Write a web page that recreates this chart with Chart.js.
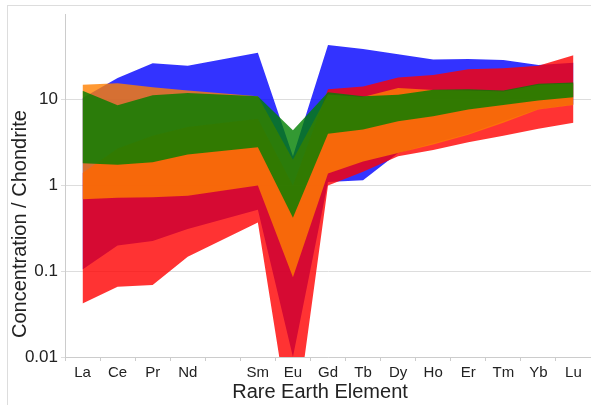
<!DOCTYPE html>
<html>
<head>
<meta charset="utf-8">
<script src="https://cdn.jsdelivr.net/npm/chart.js@4.4.1/dist/chart.umd.min.js"></script>
<style>
  html, body { margin: 0; background: #fff; }
  #wrap { position: relative; width: 591px; height: 405px; overflow: hidden; }
  #frame { position: absolute; left: 7px; top: 5px; width: 600px; height: 420px; border: 1px solid #ddd; }
  canvas { position: absolute; left: 0; top: 0; }
</style>
</head>
<body>
<div id="wrap">
  <div id="frame"></div>
  <canvas id="myChart" width="591" height="405"></canvas>
</div>
<script>
// REE elements (Pm has no data, kept as an empty slot)
const elements = ["La", "Ce", "Pr", "Nd", "", "Sm", "Eu", "Gd", "Tb", "Dy", "Ho", "Er", "Tm", "Yb", "Lu"];
const yTicks = [0.01, 0.1, 1, 10];

// envelope bounds per group
const blueHigh   = [10.5, 17.9, 26.7, 24.9, null, 35.3, 2.2, 43.6, 39, 34, 29.5, 29.8, 29, 25.5, 27];
const blueLow    = [0.105, 0.2, 0.225, 0.31, null, 0.52, 0.01, 1.1, 1.15, 2.4, 3.1, 4.0, 5.6, 7.8, 8.8];
const redHigh    = [1.4, 2.7, 3.8, 4.8, null, 6, 1.0, 13.3, 14.3, 18.2, 19.5, 22.7, 23.3, 24.9, 33];
const redLow     = [0.042, 0.066, 0.069, 0.148, null, 0.37, 0.001, 1.0, 1.45, 2.2, 2.6, 3.2, 3.8, 4.6, 5.4];
const orangeHigh = [15, 15.6, 14, 12.8, null, 11, 2.0, 11.5, 10.8, 13.7, 13, 12.8, 12.5, 15, 15.5];
const orangeLow  = [0.69, 0.72, 0.73, 0.76, null, 1.0, 0.085, 1.38, 1.9, 2.4, 3.0, 3.9, 5.4, 7.7, 8.7];
const greenHigh  = [12.7, 8.6, 11.3, 12, null, 11, 4.4, 12.2, 11, 11.4, 13.1, 13.3, 12.8, 15.4, 15.9];
const greenLow   = [1.82, 1.75, 1.87, 2.3, null, 2.8, 0.42, 4.0, 4.5, 5.6, 6.4, 7.7, 8.7, 9.8, 10.7];

const font = "'Liberation Sans', Arial, Helvetica, sans-serif";

// lower edge (no fill) + upper edge filled down to it
function band(low, high, color, order) {
  const base = { pointRadius: 0, borderWidth: 0, borderColor: "transparent", spanGaps: true, tension: 0, order: order };
  return [
    Object.assign({ data: low, fill: false }, base),
    Object.assign({ data: high, fill: "-1", backgroundColor: color }, base),
  ];
}

const axisTitles = {
  id: "axisTitles",
  afterDraw(chart) {
    const c = chart.ctx;
    c.save();
    c.fillStyle = "#222";
    c.font = "20px " + font;
    c.textAlign = "center";
    c.textBaseline = "middle";
    c.fillText("Rare Earth Element", 320, 392);
    c.translate(20, 224);
    c.rotate(-Math.PI / 2);
    c.fillText("Concentration / Chondrite", 0, 0);
    c.restore();
  },
};

const ctx = document.getElementById("myChart").getContext("2d");
const myChart = new Chart(ctx, {
  type: "line",
  data: {
    labels: elements,
    datasets: [
      ...band(blueLow, blueHigh, "rgba(0, 0, 255, 0.8)", 4),
      ...band(redLow, redHigh, "rgba(255, 0, 0, 0.8)", 3),
      ...band(orangeLow, orangeHigh, "rgba(255, 127, 0, 0.8)", 2),
      ...band(greenLow, greenHigh, "rgba(0, 128, 0, 0.8)", 1),
    ],
  },
  options: {
    responsive: false,
    animation: false,
    events: [],
    layout: { padding: { top: 14, right: 0, left: 0, bottom: 0 } },
    plugins: { legend: { display: false }, tooltip: { enabled: false } },
    scales: {
      x: {
        offset: true,
        grid: { offset: true, drawOnChartArea: false, tickLength: 4, color: "#ccc" },
        border: { color: "#ccc" },
        ticks: { color: "#222", font: { family: font, size: 15 }, padding: 3, autoSkip: false, maxRotation: 0 },
        afterFit: (s) => { s.height = 48; },
      },
      y: {
        type: "logarithmic",
        min: 0.01,
        max: 100,
        grid: { color: "#ddd", tickLength: 4 },
        border: { color: "#ccc" },
        ticks: { color: "#222", font: { family: font, size: 17 }, padding: 3, callback: (v) => String(v) },
        afterBuildTicks: (s) => { s.ticks = yTicks.map((v) => ({ value: v })); },
        afterFit: (s) => { s.width = 65; },
      },
    },
  },
  plugins: [axisTitles],
});
</script>
</body>
</html>
